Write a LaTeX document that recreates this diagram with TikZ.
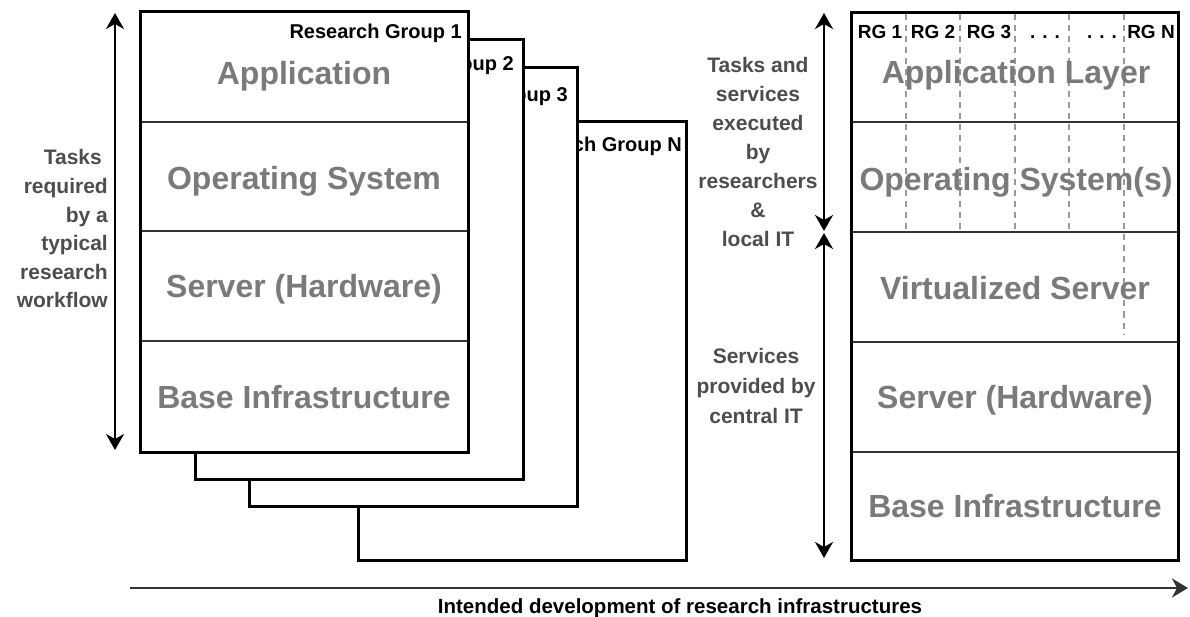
\documentclass[tikz,border=0pt]{standalone}
\usepackage{fontspec}
\setmainfont{Liberation Sans}
\usetikzlibrary{arrows.meta}
\definecolor{layergray}{HTML}{7A7A7A}
\definecolor{notegray}{HTML}{4D4D4D}
\definecolor{rulegray}{HTML}{333333}
\definecolor{dashgray}{HTML}{999999}
\tikzset{
  frame/.style={draw=black, line width=3pt, fill=white, inner sep=0pt, outer sep=0pt, anchor=north west},
  divider/.style={draw=rulegray, line width=2pt},
  column/.style={draw=dashgray, line width=2pt, dash pattern=on 6pt off 5pt},
  layer/.style={text=layergray, font=\fontsize{32}{38}\selectfont\bfseries, inner sep=0pt, anchor=base},
  grouplabel/.style={font=\fontsize{20}{24}\selectfont\bfseries, inner sep=0pt, anchor=base east},
  rglabel/.style={font=\fontsize{19}{23}\selectfont\bfseries, inner sep=0pt, anchor=base},
  note/.style={text=notegray, inner sep=0pt},
  span/.style={draw=black, line width=2pt,
    {Stealth[length=16pt,width=18pt,inset=5pt]}-{Stealth[length=16pt,width=18pt,inset=5pt]}},
  timeline/.style={draw=rulegray, line width=2.5pt, -{Stealth[length=16pt,width=19pt,inset=5pt]}},
}
\begin{document}
\begin{tikzpicture}[x=1pt,y=-1pt]
\useasboundingbox (0,0) rectangle (1190,617);

% ---- stacked research group stacks (back to front) ----
\node[frame, minimum width=328pt, minimum height=438pt] (rgN) at (358,122) {};
\node[grouplabel] (rgNlabel) at (682,152) {Research Group N};
\node[frame, minimum width=328pt, minimum height=438pt] (rg3) at (249,68) {};
\node[grouplabel] (rg3label) at (568,102) {Research Group 3};
\node[frame, minimum width=328pt, minimum height=439pt] (rg2) at (195,40) {};
\node[grouplabel] (rg2label) at (514,71) {Research Group 2};
\node[frame, minimum width=328pt, minimum height=440pt] (rg1) at (140,12) {};
\node[grouplabel] (rg1label) at (462,39) {Research Group 1};

\draw[divider] (141.5,122) -- (466.5,122);
\draw[divider] (141.5,231) -- (466.5,231);
\draw[divider] (141.5,341) -- (466.5,341);

\node[layer] (appL)  at (304,85)  {Application};
\node[layer] (osL)   at (304,190) {Operating System};
\node[layer] (hwL)   at (304,298) {Server (Hardware)};
\node[layer] (baseL) at (304,408) {Base Infrastructure};

% ---- shared stack ----
\node[frame, minimum width=327pt, minimum height=547pt] (shared) at (851,13) {};
\foreach \y in {122,232,342,452}
  \draw[divider] (852.5,\y) -- (1176.5,\y);
\foreach \x in {905.5,960,1014.5,1069}
  \draw[column] (\x,14.5) -- (\x,231);
\draw[column] (1123.5,14.5) -- (1123.5,335);

\node[rglabel] (rgA) at (880,39)  {RG 1};
\node[rglabel] (rgB) at (933,39)  {RG 2};
\node[rglabel] (rgC) at (989,39)  {RG 3};
\node[rglabel] (rgD) at (1045,39) {. . .};
\node[rglabel] (rgE) at (1102,39) {. . .};
\node[rglabel] (rgF) at (1151,39) {RG N};

\node[layer] (appR)  at (1016,84)  {Application Layer};
\node[layer] (osR)   at (1016,191) {Operating System(s)};
\node[layer] (virtR) at (1015,299) {Virtualized Server};
\node[layer] (hwR)   at (1015,408) {Server (Hardware)};
\node[layer] (baseR) at (1015,517) {Base Infrastructure};

% ---- annotations (anchored on the baseline of their last line) ----
\node[note, font=\fontsize{21}{28.6}\selectfont\bfseries, align=right, anchor=base east] (workflow)
  at (108,308) {Tasks\hspace*{6pt}\\required\\by a\\typical\\research\\workflow};
\node[note, font=\fontsize{21}{29}\selectfont\bfseries, align=center, anchor=base] (localit)
  at (758,247) {Tasks and\\services\\executed\\by\\researchers\\\&\\local IT};
\node[note, font=\fontsize{21}{30}\selectfont\bfseries, align=center, anchor=base] (centralit)
  at (756,423) {Services\\provided by\\central IT};

\coordinate (wfTop) at (115,13);
\coordinate (wfBot) at (115,450);
\coordinate (locTop) at (824,13);
\coordinate (locBot) at (824,231);
\coordinate (cenTop) at (824,233);
\coordinate (cenBot) at (824,558);
\coordinate (tStart) at (130,588);
\coordinate (tEnd) at (1188,588);

\draw[span] (wfBot) -- (wfTop);
\draw[span] (locTop) -- (locBot);
\draw[span] (cenTop) -- (cenBot);
\draw[timeline] (tStart) -- (tEnd);

\node[font=\fontsize{20.5}{24}\selectfont\bfseries, inner sep=0pt, anchor=base] (timelabel)
  at (680,613) {Intended development of research infrastructures};
\end{tikzpicture}
\end{document}
